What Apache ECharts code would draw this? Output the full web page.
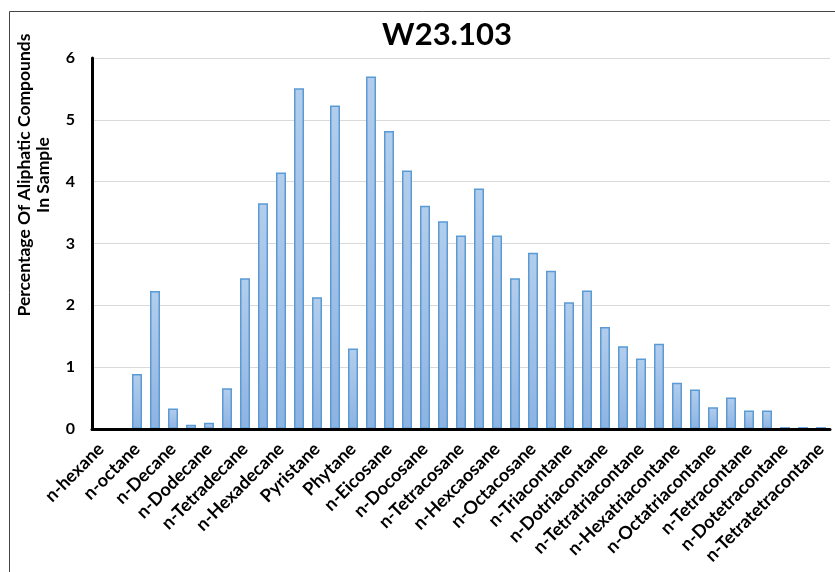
<!DOCTYPE html>
<html>
<head>
<meta charset="utf-8">
<script src="https://cdn.jsdelivr.net/npm/echarts@6/dist/echarts.min.js"></script>
<style>html,body{margin:0;padding:0;background:#fff}#c{width:835px;height:572px}</style>
</head>
<body>
<div id="c"></div>
<script>
const categories = [
  'n-hexane','n-heptane','n-octane','n-nonane','n-Decane','n-Undecane','n-Dodecane','n-Tridecane',
  'n-Tetradecane','n-Pentadecane','n-Hexadecane','n-Heptadecane','Pyristane','n-Octadecane','Phytane',
  'n-Nonadecane','n-Eicosane','n-Heneicosane','n-Docosane','n-Tricosane','n-Tetracosane','n-Pentacosane',
  'n-Hexcaosane','n-Heptacosane','n-Octacosane','n-Nonacosane','n-Triacontane','n-Hentriacontane',
  'n-Dotriacontane','n-Tritriacontane','n-Tetratriacontane','n-Pentatriacontane','n-Hexatriacontane',
  'n-Heptatriacontane','n-Octatriacontane','n-Nonatriacontane','n-Tetracontane','n-Hentetracontane',
  'n-Dotetracontane','n-Tritetracontane','n-Tetratetracontane'
];
const values = [
  0, 0, 0.89, 2.23, 0.33, 0.07, 0.10, 0.66,
  2.44, 3.65, 4.15, 5.51, 2.13, 5.23, 1.30,
  5.70, 4.82, 4.18, 3.61, 3.36, 3.13, 3.89,
  3.13, 2.44, 2.85, 2.56, 2.05, 2.24,
  1.65, 1.34, 1.14, 1.38, 0.75,
  0.64, 0.35, 0.51, 0.30, 0.30,
  0.03, 0.03, 0.03
];
const chartTitle = 'W23.103';
const yName = 'Percentage Of Aliphatic Compounds\nIn Sample';

const chart = echarts.init(document.getElementById('c'));
const FONT = 'Lato';
chart.setOption({
  animation: false,
  title: {
    text: chartTitle, left: 442, top: 14, textAlign: 'center',
    textStyle: { fontFamily: FONT, fontWeight: 'bold', fontSize: 31, color: '#000' }
  },
  graphic: [
    { type: 'rect', shape: { x: 9.5, y: 11.5, width: 840, height: 600 },
      style: { fill: 'none', stroke: '#444', lineWidth: 1 }, silent: true, z: -1 },
    { type: 'text', x: 34, y: 175, rotation: Math.PI / 2,
      style: { text: yName, fontFamily: FONT, fontWeight: 'bold', fontSize: 17.5, fill: '#000',
               textAlign: 'center', textVerticalAlign: 'middle', lineHeight: 19 } }
  ],
  grid: { left: 92, right: 5, top: 58, bottom: 143 },
  xAxis: {
    type: 'category', data: categories, z: 5,
    axisLine: { lineStyle: { color: '#000', width: 3 } },
    axisTick: { show: false },
    axisLabel: { interval: 1, rotate: 45, fontFamily: FONT, fontWeight: 'bold', fontSize: 18,
                 color: '#000', margin: 17 }
  },
  yAxis: {
    type: 'value', min: 0, max: 6, interval: 1,
    axisLine: { show: true, lineStyle: { color: '#000', width: 3 } },
    axisTick: { show: false },
    axisLabel: { fontFamily: FONT, fontWeight: 'bold', fontSize: 16, color: '#000', margin: 17 },
    splitLine: { lineStyle: { color: '#d9d9d9', width: 1 } }
  },
  series: [{
    type: 'bar', data: values, barWidth: 10,
    itemStyle: {
      color: new echarts.graphic.LinearGradient(0, 0, 0, 1, [
        { offset: 0, color: '#b3cdec' }, { offset: 1, color: '#8db3e2' }
      ]),
      borderColor: '#5b9bd5', borderWidth: 1.5
    }
  }]
});
</script>
</body>
</html>
